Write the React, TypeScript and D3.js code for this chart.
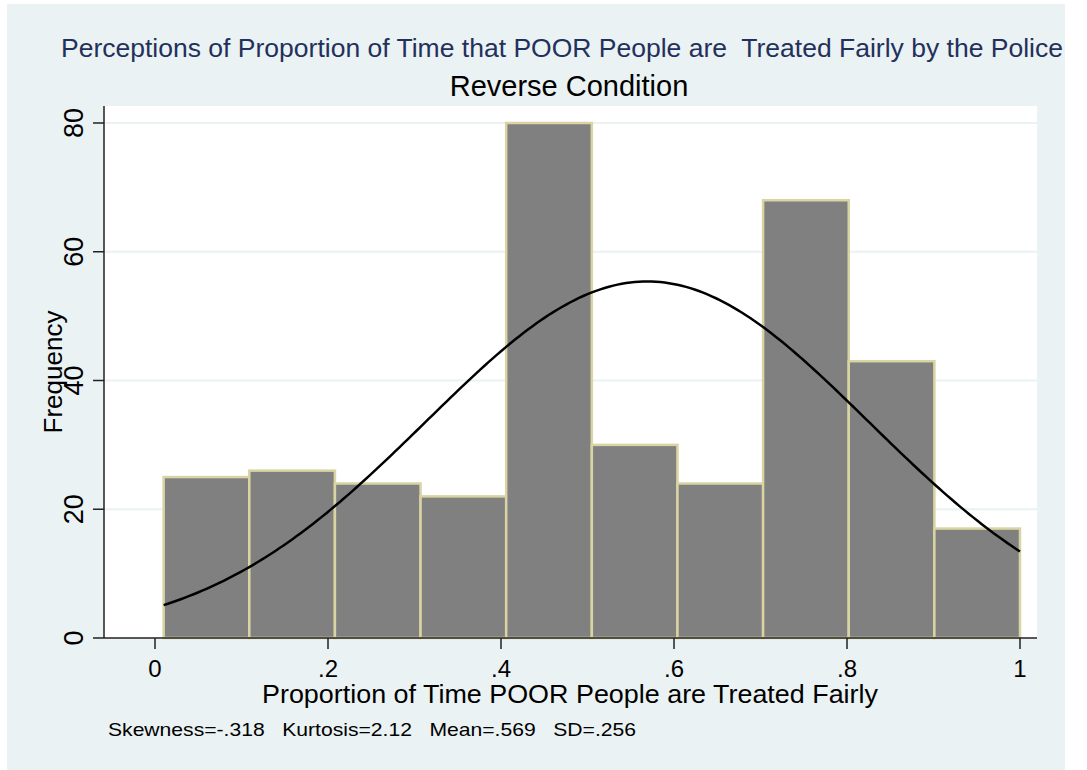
import React from "react";
import * as d3 from "d3";

// histogram bins (left edges + last right edge) and counts
const binEdges = [0.01, 0.109, 0.208, 0.307, 0.406, 0.505, 0.604, 0.703, 0.802, 0.901, 1.0];
const counts = [25, 26, 24, 22, 80, 30, 24, 68, 43, 17];
const xTicks = [0, 0.2, 0.4, 0.6, 0.8, 1];
const yTicks = [0, 20, 40, 60, 80];
const mean = 0.569;
const sd = 0.256;

const title = "Perceptions of Proportion of Time that POOR People are\u00a0 Treated Fairly by the Police";
const subtitle = "Reverse Condition";
const xTitle = "Proportion of Time POOR People are Treated Fairly";
const yTitle = "Frequency";
const note = "Skewness=-.318\u00a0\u00a0 Kurtosis=2.12\u00a0\u00a0 Mean=.569\u00a0\u00a0 SD=.256";

const W = 1087;
const H = 770;
const plot = { left: 104, right: 1037, top: 106, bottom: 638 };
const font = "'Liberation Sans', Arial, sans-serif";

function fmt(v: number) {
  if (v === 0) return "0";
  if (v === 1) return "1";
  return String(v).replace(/^0/, "");
}

export default function App() {
  const x = d3.scaleLinear().domain([0, 1]).range([155, 1020]);
  const y = d3.scaleLinear().domain([0, 80]).range([plot.bottom, 123]);

  // fitted normal density, scaled to counts
  const n = d3.sum(counts);
  const bw = binEdges[1] - binEdges[0];
  const curvePts = d3.range(0, 201).map((i) => {
    const v = binEdges[0] + (i / 200) * (binEdges[binEdges.length - 1] - binEdges[0]);
    const z = (v - mean) / sd;
    const f = (n * bw) / (sd * Math.sqrt(2 * Math.PI)) * Math.exp(-0.5 * z * z);
    return [v, f] as [number, number];
  });
  const curve = d3
    .line<[number, number]>()
    .x((d) => x(d[0]))
    .y((d) => y(d[1]));

  return (
    <svg width={W} height={H} style={{ position: "absolute", left: 0, top: 0 }} fontFamily={font}>
      <rect x={0} y={0} width={W} height={H} fill="#ffffff" />
      <rect x={7} y={4} width={1058} height={766} fill="#eaf2f3" />
      <rect x={plot.left} y={plot.top} width={plot.right - plot.left} height={plot.bottom - plot.top} fill="#ffffff" />

      {yTicks.slice(1).map((t) => (
        <line key={t} x1={plot.left} x2={plot.right} y1={y(t)} y2={y(t)} stroke="#eaf2f3" strokeWidth={2} />
      ))}

      {counts.map((c, i) => (
        <rect
          key={i}
          x={x(binEdges[i])}
          y={y(c)}
          width={x(binEdges[i + 1]) - x(binEdges[i])}
          height={y(0) - y(c)}
          fill="#808080"
          stroke="#d9d4a2"
          strokeWidth={2.5}
        />
      ))}

      <path d={curve(curvePts) || ""} fill="none" stroke="#000" strokeWidth={2.5} />

      {/* axes */}
      <line x1={plot.left} x2={plot.left} y1={plot.top} y2={plot.bottom} stroke="#222" strokeWidth={1.5} />
      <line x1={plot.left} x2={plot.right} y1={plot.bottom} y2={plot.bottom} stroke="#222" strokeWidth={1.5} />
      {yTicks.map((t) => (
        <g key={t}>
          <line x1={93} x2={plot.left} y1={y(t)} y2={y(t)} stroke="#222" strokeWidth={1.5} />
          <text
            transform={`translate(83,${y(t)}) rotate(-90)`}
            textAnchor="middle"
            fontSize={27}
            fill="#000"
          >
            {t}
          </text>
        </g>
      ))}
      {xTicks.map((t) => (
        <g key={t}>
          <line x1={x(t)} x2={x(t)} y1={plot.bottom} y2={plot.bottom + 11} stroke="#222" strokeWidth={1.5} />
          <text x={x(t)} y={677} textAnchor="middle" fontSize={24} fill="#000">
            {fmt(t)}
          </text>
        </g>
      ))}

      <text transform="translate(62,372) rotate(-90)" textAnchor="middle" fontSize={26} fill="#000">
        {yTitle}
      </text>
      <text x={262} y={703} fontSize={25.5} fill="#000" textLength={616} lengthAdjust="spacingAndGlyphs">
        {xTitle}
      </text>
      <text x={108} y={736} fontSize={19} fill="#000" textLength={528} lengthAdjust="spacingAndGlyphs">
        {note}
      </text>

      <text x={61} y={57} fontSize={26.5} fill="#23305c" textLength={1002} lengthAdjust="spacingAndGlyphs">
        {title}
      </text>
      <text x={569} y={96} textAnchor="middle" fontSize={29} fill="#000">
        {subtitle}
      </text>
    </svg>
  );
}
